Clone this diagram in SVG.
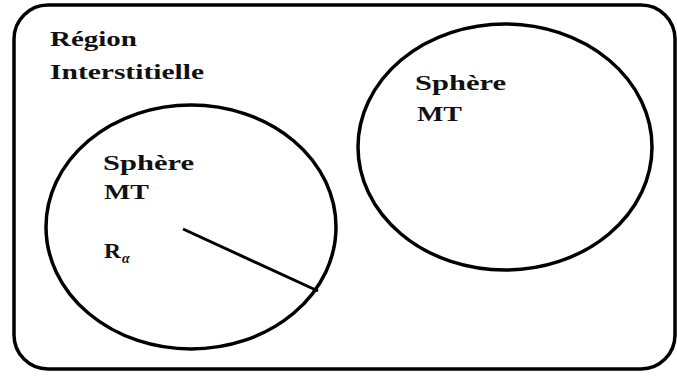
<svg xmlns="http://www.w3.org/2000/svg" width="677" height="376" viewBox="0 0 677 376">
<style>
.shape{fill:none;stroke:#000;stroke-width:3.5}
.t{font-family:"Liberation Serif","Times New Roman",serif;font-weight:bold;font-size:22px;fill:#111}
.sub{font-family:"Liberation Serif","Times New Roman",serif;font-weight:bold;font-style:italic;font-size:14px;fill:#111}
</style>
<rect width="677" height="376" fill="#fff"/>
<g id="region">
<rect class="shape" x="14" y="5" width="661" height="364" rx="34" ry="34"/>
<text class="t" x="50" y="46" textLength="87" lengthAdjust="spacingAndGlyphs">Région</text>
<text class="t" x="50" y="79" textLength="154" lengthAdjust="spacingAndGlyphs">Interstitielle</text>
</g>
<g id="sphere-left">
<ellipse class="shape" cx="191" cy="227" rx="145" ry="122"/>
<text class="t" x="103" y="170" textLength="91" lengthAdjust="spacingAndGlyphs">Sphère</text>
<text class="t" x="104" y="199" textLength="45" lengthAdjust="spacingAndGlyphs">MT</text>
<text class="t" x="104" y="258" textLength="17" lengthAdjust="spacingAndGlyphs">R</text>
<text class="sub" x="122" y="263">α</text>
</g>
<g id="sphere-right">
<ellipse class="shape" cx="505" cy="147" rx="147" ry="123"/>
<text class="t" x="415" y="90" textLength="91" lengthAdjust="spacingAndGlyphs">Sphère</text>
<text class="t" x="417" y="121" textLength="45" lengthAdjust="spacingAndGlyphs">MT</text>
</g>
<g id="connectors">
<line x1="183" y1="229" x2="318" y2="291" stroke="#000" stroke-width="3"/>
</g>
</svg>
